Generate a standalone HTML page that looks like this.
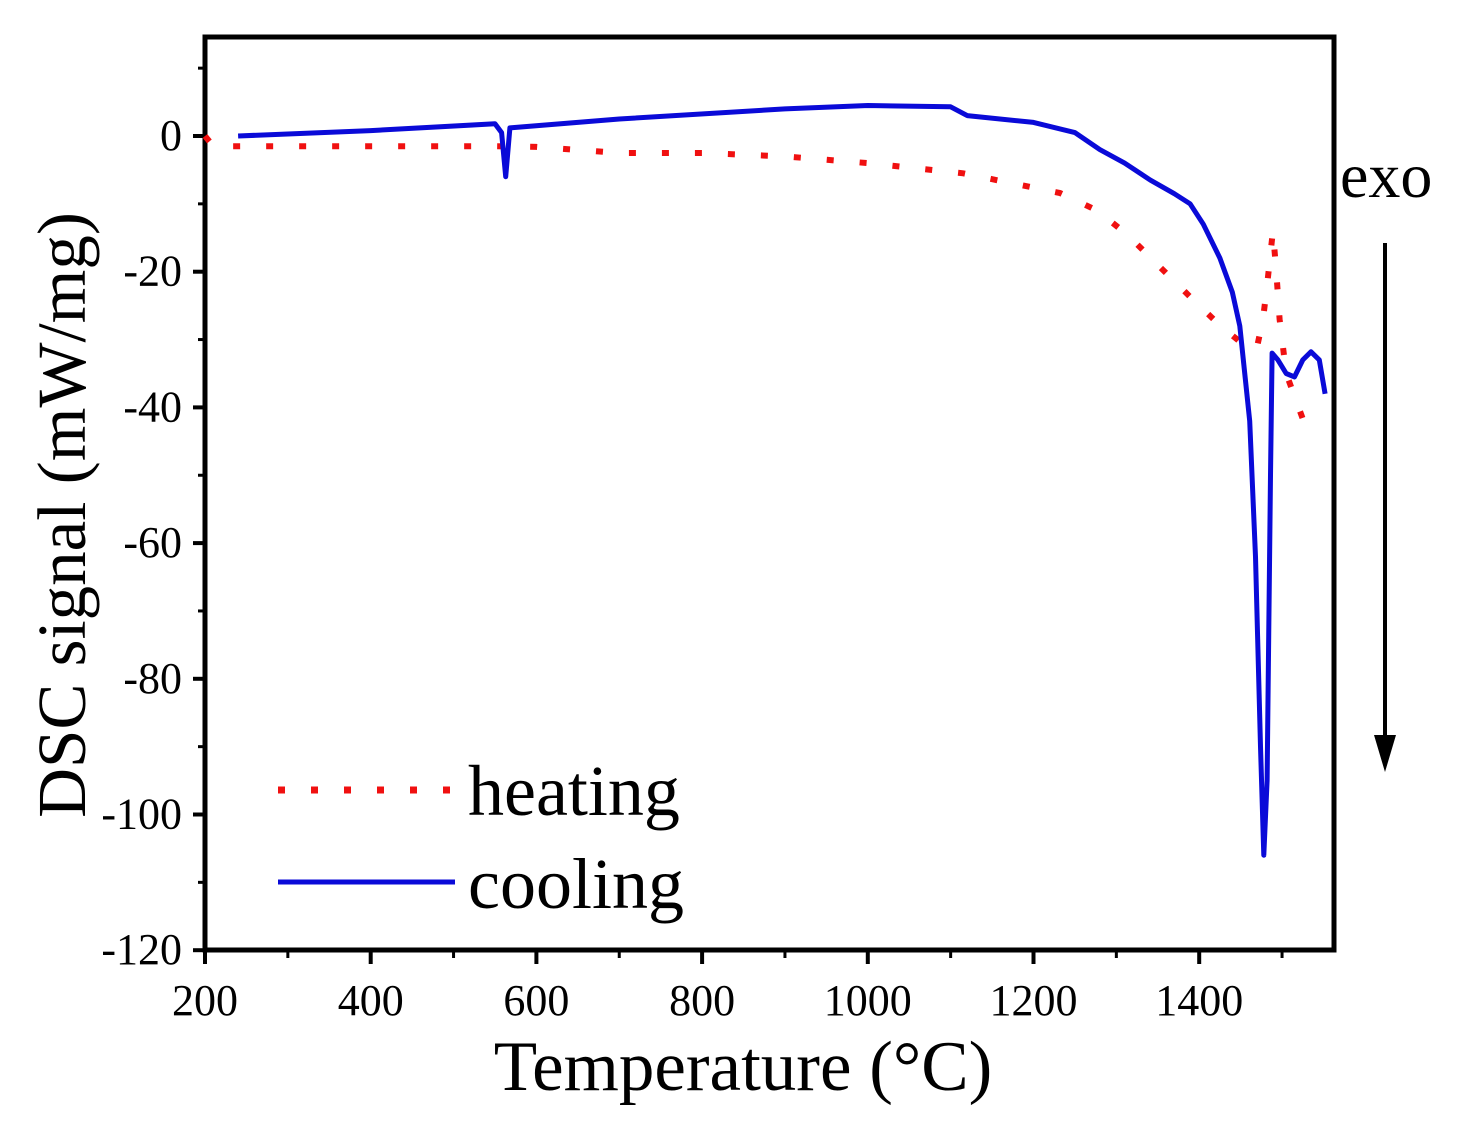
<!DOCTYPE html>
<html><head><meta charset="utf-8"><style>
html,body{margin:0;padding:0;background:#fff;}
svg{display:block;font-family:"Liberation Serif",serif;}
</style></head><body>
<svg id="chart" width="1460" height="1130" viewBox="0 0 1460 1130">
<g id="plot"></g>
</svg>
<script>
const xTicks=[200,400,600,800,1000,1200,1400];
const yTicks=[0,-20,-40,-60,-80,-100,-120];
const coolT=[240,400,550,558,563,568,700,900,1000,1100,1120,1200,1250,1280,1310,1341,1370,1389,1405,1425,1440,1449,1461,1468,1474,1478,1482,1486,1488,1495,1505,1515,1525,1535,1545,1552];
const coolY=[0,0.8,1.8,0.5,-6,1.2,2.5,4,4.5,4.3,3,2,0.5,-2,-4,-6.5,-8.5,-10,-13,-18,-23,-28,-42,-62,-90,-106,-95,-50,-32,-33,-35,-35.5,-33,-31.8,-33,-38];
const heatT=[200,210,550,600,700,800,900,1000,1115,1232,1277,1314,1350,1389,1425,1461,1470,1477,1482,1489,1493,1497,1505,1520,1535];
const heatY=[0,-1.5,-1.5,-1.6,-2.5,-2.5,-3,-4,-5.5,-8.4,-11,-14.6,-19,-23.7,-27.9,-31.5,-31,-27,-22,-14,-20,-27,-35,-40,-45];
const X=t=>205+(t-200)*165.7/200;
const Y=v=>136-v*135.7/20;
const NS="http://www.w3.org/2000/svg";
const g=document.getElementById('plot');
function mk(tag,attrs,txt){const e=document.createElementNS(NS,tag);for(const k in attrs)e.setAttribute(k,attrs[k]);if(txt!==undefined)e.textContent=txt;g.appendChild(e);return e;}
let e=mk('rect',{x:205,y:37,width:1129,height:913,fill:'none',stroke:'#000','stroke-width':5});


xTicks.forEach((t,i)=>{
  let l=mk('line',{x1:X(t),x2:X(t),y1:950,y2:964,stroke:'#000','stroke-width':4});
  
  
  let m=mk('line',{x1:X(t+100),x2:X(t+100),y1:950,y2:958,stroke:'#000','stroke-width':3});
  
  
  let tx=mk('text',{x:X(t),y:1015,'font-size':44,'text-anchor':'middle',fill:'#000'},String(t));
  
  
});
yTicks.forEach(v=>{
  let l=mk('line',{x1:193,x2:205,y1:Y(v),y2:Y(v),stroke:'#000','stroke-width':4});
  
  
  if(v+10<=14){let m=mk('line',{x1:198,x2:205,y1:Y(v+10),y2:Y(v+10),stroke:'#000','stroke-width':3});
  
  }
  let tx=mk('text',{x:182,y:Y(v)+14,'font-size':44,'text-anchor':'end',fill:'#000'},String(v));
  
  
});
function pts(T,V){return T.map((t,i)=>X(t).toFixed(1)+','+Y(V[i]).toFixed(1)).join(' ');}
let h=mk('polyline',{points:pts(heatT,heatY),fill:'none',stroke:'#f01010','stroke-width':6,'stroke-dasharray':'7 26'});


let c=mk('polyline',{points:pts(coolT,coolY),fill:'none',stroke:'#0a0ad8','stroke-width':5,'stroke-linejoin':'round'});


let l1=mk('line',{x1:278,x2:455,y1:790,y2:790,stroke:'#f01010','stroke-width':7,'stroke-dasharray':'7 26'});


let t1=mk('text',{x:468,y:815,'font-size':72,fill:'#000'},'heating');


let l2=mk('line',{x1:278,x2:455,y1:882,y2:882,stroke:'#0a0ad8','stroke-width':5});


let t2=mk('text',{x:468,y:908,'font-size':72,fill:'#000'},'cooling');


let ex=mk('text',{x:1340,y:197,'font-size':64,fill:'#000'},'exo');


let ar=mk('line',{x1:1385,x2:1385,y1:243,y2:750,stroke:'#000','stroke-width':4});


let ah=mk('polygon',{points:'1374,735 1396,735 1385,772',fill:'#000'});


let xt=mk('text',{x:743,y:1090,'font-size':71,'text-anchor':'middle',fill:'#000'},'Temperature (°C)');


let yt=mk('text',{x:0,y:0,'font-size':69,'text-anchor':'middle',fill:'#000',transform:'translate(85,515) rotate(-90)'},'DSC signal (mW/mg)');


</script>
</body></html>
